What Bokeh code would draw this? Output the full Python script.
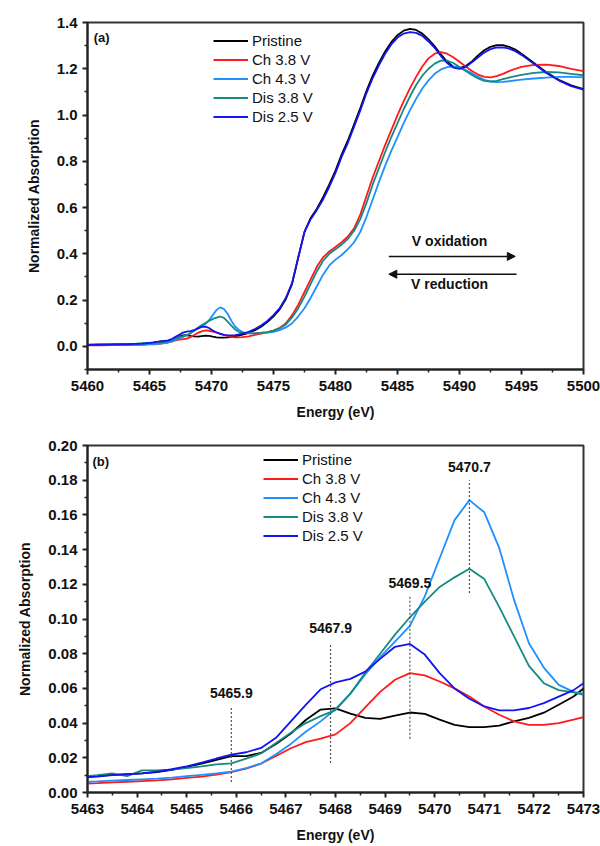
from bokeh.plotting import figure
from bokeh.layouts import column
from bokeh.models import (FixedTicker, PrintfTickFormatter, Arrow, NormalHead,
                          Label, ColumnDataSource, Range1d)
from bokeh.embed import file_html
from bokeh.resources import INLINE

# ---------------- data ----------------
series_names = ["Pristine", "Ch 3.8 V", "Ch 4.3 V", "Dis 3.8 V", "Dis 2.5 V"]
series_colors = ["#000000", "#ff1a1a", "#1e90ff", "#168a80", "#1414ee"]

# pre-edge start (panel a only)
E_pre = [5460.0, 5461.0, 5462.0]
pre_pristine = [0.006, 0.007, 0.008]
pre_ch38 = [0.004, 0.0045, 0.005]
pre_ch43 = [0.005, 0.0055, 0.006]
pre_dis38 = [0.007, 0.008, 0.009]
pre_dis25 = [0.006, 0.007, 0.008]

# pre-edge region (panel b, also part of panel a)
E_bot = [5463.0, 5463.2, 5463.5, 5463.8, 5464.1, 5464.4, 5464.7, 5465.0, 5465.3,
         5465.6, 5465.9, 5466.2, 5466.5, 5466.8, 5467.1, 5467.4, 5467.7, 5468.0,
         5468.3, 5468.6, 5468.9, 5469.2, 5469.5, 5469.8, 5470.1, 5470.4, 5470.7,
         5471.0, 5471.3, 5471.6, 5471.9, 5472.2, 5472.5, 5472.8, 5473.0]
bot_pristine = [0.0094, 0.0096, 0.0102, 0.0106, 0.0110, 0.0118, 0.0130, 0.0148, 0.0166,
                0.0188, 0.0210, 0.0210, 0.0228, 0.0280, 0.0340, 0.0418, 0.0478, 0.0485,
                0.0455, 0.0430, 0.0424, 0.0443, 0.0461, 0.0453, 0.0420, 0.0390, 0.0377,
                0.0377, 0.0385, 0.0410, 0.0430, 0.0460, 0.0506, 0.0553, 0.0600]
bot_ch38 = [0.0052, 0.0054, 0.0058, 0.0062, 0.0066, 0.0070, 0.0076, 0.0084, 0.0092,
            0.0103, 0.0117, 0.0138, 0.0167, 0.0210, 0.0255, 0.0290, 0.0310, 0.0335,
            0.0400, 0.0490, 0.0580, 0.0650, 0.0688, 0.0675, 0.0640, 0.0600, 0.0553,
            0.0496, 0.0448, 0.0410, 0.0390, 0.0390, 0.0400, 0.0420, 0.0435]
bot_ch43 = [0.0062, 0.0064, 0.0068, 0.0072, 0.0076, 0.0080, 0.0086, 0.0094, 0.0102,
            0.0110, 0.0120, 0.0140, 0.0167, 0.0220, 0.0280, 0.0350, 0.0410, 0.0480,
            0.0570, 0.0680, 0.0780, 0.0870, 0.0960, 0.1130, 0.1350, 0.1570, 0.1685,
            0.1615, 0.1410, 0.1110, 0.0860, 0.0720, 0.0620, 0.0580, 0.0570]
bot_dis38 = [0.0094, 0.0100, 0.0110, 0.0094, 0.0128, 0.0128, 0.0132, 0.0140, 0.0150,
             0.0162, 0.0168, 0.0195, 0.0225, 0.0285, 0.0345, 0.0400, 0.0440, 0.0475,
             0.0570, 0.0690, 0.0800, 0.0910, 0.1010, 0.1100, 0.1185, 0.1240, 0.1290,
             0.1230, 0.1070, 0.0900, 0.0730, 0.0630, 0.0590, 0.0577, 0.0563]
bot_dis25 = [0.0088, 0.0092, 0.0100, 0.0105, 0.0110, 0.0120, 0.0134, 0.0150, 0.0172,
             0.0196, 0.0218, 0.0232, 0.0257, 0.0315, 0.0410, 0.0505, 0.0595, 0.0635,
             0.0655, 0.0697, 0.0770, 0.0840, 0.0856, 0.0795, 0.0688, 0.0600, 0.0540,
             0.0496, 0.0473, 0.0473, 0.0487, 0.0515, 0.0553, 0.0590, 0.0630]

# main edge region (panel a)
E_edge = [5473.5, 5474.0, 5474.5, 5475.0, 5475.5, 5476.0, 5476.5, 5477.0, 5477.5,
          5478.0, 5478.5, 5479.0, 5479.5, 5480.0, 5480.5, 5481.0, 5481.5, 5482.0,
          5482.5, 5483.0, 5483.5, 5484.0, 5484.5, 5485.0, 5485.5, 5486.0, 5486.5,
          5487.0, 5487.5, 5488.0, 5488.5, 5489.0, 5489.5, 5490.0, 5490.5, 5491.0,
          5491.5, 5492.0, 5492.5, 5493.0, 5493.5, 5494.0, 5494.5, 5495.0, 5496.0,
          5497.0, 5498.0, 5499.0, 5500.0]
edge_pristine = [0.070, 0.085, 0.105, 0.130, 0.160, 0.205, 0.270, 0.385, 0.495,
                 0.555, 0.595, 0.645, 0.700, 0.760, 0.830, 0.890, 0.960, 1.030,
                 1.105, 1.170, 1.225, 1.275, 1.315, 1.345, 1.365, 1.372, 1.368,
                 1.352, 1.327, 1.297, 1.262, 1.230, 1.209, 1.203, 1.212, 1.232,
                 1.258, 1.280, 1.295, 1.302, 1.302, 1.295, 1.283, 1.265, 1.225,
                 1.185, 1.152, 1.128, 1.112]
edge_ch38 = [0.050, 0.055, 0.060, 0.068, 0.080, 0.100, 0.135, 0.180, 0.235,
             0.290, 0.345, 0.385, 0.410, 0.430, 0.450, 0.475, 0.510, 0.570,
             0.650, 0.730, 0.800, 0.870, 0.935, 1.000, 1.060, 1.115, 1.165,
             1.210, 1.245, 1.265, 1.272, 1.265, 1.250, 1.230, 1.210, 1.190,
             1.175, 1.165, 1.163, 1.168, 1.178, 1.190, 1.200, 1.208, 1.217,
             1.218, 1.212, 1.200, 1.190]
edge_ch43 = [0.056, 0.057, 0.059, 0.063, 0.070, 0.082, 0.100, 0.130, 0.165,
             0.210, 0.260, 0.310, 0.350, 0.375, 0.395, 0.420, 0.450, 0.495,
             0.560, 0.635, 0.710, 0.780, 0.845, 0.905, 0.965, 1.020, 1.070,
             1.115, 1.150, 1.178, 1.197, 1.207, 1.210, 1.205, 1.195, 1.180,
             1.165, 1.152, 1.145, 1.142, 1.143, 1.146, 1.150, 1.153, 1.158,
             1.162, 1.165, 1.165, 1.163]
edge_dis38 = [0.057, 0.059, 0.062, 0.068, 0.078, 0.095, 0.125, 0.165, 0.215,
              0.270, 0.325, 0.370, 0.400, 0.420, 0.440, 0.465, 0.500, 0.550,
              0.620, 0.700, 0.770, 0.840, 0.905, 0.965, 1.025, 1.080, 1.130,
              1.170, 1.200, 1.222, 1.235, 1.235, 1.225, 1.208, 1.190, 1.173,
              1.158, 1.148, 1.145, 1.148, 1.155, 1.162, 1.168, 1.174, 1.182,
              1.186, 1.184, 1.178, 1.172]
edge_dis25 = [0.075, 0.090, 0.110, 0.135, 0.165, 0.210, 0.275, 0.385, 0.495,
              0.550, 0.590, 0.635, 0.690, 0.750, 0.820, 0.880, 0.950, 1.020,
              1.095, 1.160, 1.215, 1.265, 1.305, 1.335, 1.352, 1.358, 1.355,
              1.342, 1.318, 1.290, 1.255, 1.225, 1.205, 1.200, 1.208, 1.228,
              1.250, 1.270, 1.285, 1.292, 1.292, 1.287, 1.276, 1.260, 1.222,
              1.182, 1.150, 1.125, 1.110]

# tick values
xa_ticks = [5460, 5465, 5470, 5475, 5480, 5485, 5490, 5495, 5500]
ya_ticks = [0.0, 0.2, 0.4, 0.6, 0.8, 1.0, 1.2, 1.4]
xb_ticks = [5463, 5464, 5465, 5466, 5467, 5468, 5469, 5470, 5471, 5472, 5473]
yb_ticks = [0.00, 0.02, 0.04, 0.06, 0.08, 0.10, 0.12, 0.14, 0.16, 0.18, 0.20]

# peak markers in panel b
peak_E = [5465.9, 5467.9, 5469.5, 5470.7]
peak_labels = ["5465.9", "5467.9", "5469.5", "5470.7"]

pre_all = [pre_pristine, pre_ch38, pre_ch43, pre_dis38, pre_dis25]
bot_all = [bot_pristine, bot_ch38, bot_ch43, bot_dis38, bot_dis25]
edge_all = [edge_pristine, edge_ch38, edge_ch43, edge_dis38, edge_dis25]

FONT = "Liberation Sans"


def style(p, xticks, xminor, yticks, yminor, yfmt):
    p.xaxis.ticker = FixedTicker(ticks=xticks, minor_ticks=xminor)
    p.yaxis.ticker = FixedTicker(ticks=yticks, minor_ticks=yminor)
    p.xaxis.formatter = PrintfTickFormatter(format="%d")
    p.yaxis.formatter = PrintfTickFormatter(format=yfmt)
    p.xgrid.visible = False
    p.ygrid.visible = False
    for ax in (p.xaxis[0], p.yaxis[0]):
        ax.axis_line_width = 2
        ax.axis_line_color = "#222222"
        ax.major_tick_line_width = 2
        ax.major_tick_line_color = "#222222"
        ax.minor_tick_line_width = 1.5
        ax.minor_tick_line_color = "#222222"
        ax.major_tick_in = 0
        ax.major_tick_out = 5
        ax.minor_tick_in = 0
        ax.minor_tick_out = 3
        ax.major_label_text_font = FONT
        ax.major_label_text_font_style = "bold"
        ax.major_label_text_font_size = "15px"
        ax.major_label_text_color = "#111111"
        ax.axis_label_text_font = FONT
        ax.axis_label_text_font_style = "bold"
        ax.axis_label_text_font_size = "14px"
        ax.axis_label_text_color = "#111111"
    p.xaxis.major_label_standoff = 6
    p.yaxis.major_label_standoff = 5
    p.xaxis.axis_label_standoff = 10
    p.yaxis.axis_label_standoff = 12
    p.outline_line_color = "#333333"
    p.outline_line_width = 2
    p.outline_line_alpha = 1.0


def make_fig(xr, yr):
    return figure(frame_width=496, frame_height=347, min_border_left=87,
                  min_border_right=17, min_border_top=22, min_border_bottom=54,
                  x_range=Range1d(*xr), y_range=Range1d(*yr),
                  output_backend="svg", toolbar_location=None,
                  x_axis_label="Energy (eV)", y_axis_label="Normalized Absorption",
                  background_fill_color="white", border_fill_color="white")


def style_legend(p, xoff, yoff):
    lg = p.legend[0]
    lg.location = (xoff, yoff)
    lg.border_line_alpha = 0
    lg.background_fill_alpha = 0
    lg.padding = 0
    lg.margin = 0
    lg.spacing = 2
    lg.glyph_width = 35
    lg.glyph_height = 15
    lg.label_height = 15
    lg.label_standoff = 4
    lg.label_text_font = FONT
    lg.label_text_font_size = "15px"
    lg.label_text_color = "#111111"


# ---------------- panel (a) ----------------
pa = make_fig((5460, 5500), (-0.1, 1.4))
style(pa, xa_ticks, [5462.5, 5467.5, 5472.5, 5477.5, 5482.5, 5487.5, 5492.5, 5497.5],
      ya_ticks, [-0.1, 0.1, 0.3, 0.5, 0.7, 0.9, 1.1, 1.3], "%.1f")
E_top = E_pre + E_bot + E_edge
for name, col, pre, bot, edge in zip(series_names, series_colors, pre_all, bot_all, edge_all):
    src = ColumnDataSource(dict(x=E_top, y=pre + bot + edge))
    pa.line("x", "y", source=src, line_color=col, line_width=1.8, legend_label=name)
style_legend(pa, 126, 244)

pa.add_layout(Label(x=5460.5, y=1.335, text="(a)", text_font=FONT, text_font_style="bold",
                    text_font_size="13px", text_baseline="middle", text_color="#111111"))
pa.add_layout(Label(x=5489.2, y=0.457, text="V oxidation", text_font=FONT,
                    text_font_style="bold", text_font_size="14px", text_align="center",
                    text_baseline="middle", text_color="#111111"))
pa.add_layout(Label(x=5489.2, y=0.268, text="V reduction", text_font=FONT,
                    text_font_style="bold", text_font_size="14px", text_align="center",
                    text_baseline="middle", text_color="#111111"))
pa.add_layout(Arrow(x_start=5484.3, y_start=0.389, x_end=5494.5, y_end=0.389,
                    line_width=1.5, line_color="#111111",
                    end=NormalHead(size=8, fill_color="#111111", line_color="#111111")))
pa.add_layout(Arrow(x_start=5494.6, y_start=0.312, x_end=5484.3, y_end=0.312,
                    line_width=1.5, line_color="#111111",
                    end=NormalHead(size=8, fill_color="#111111", line_color="#111111")))

# ---------------- panel (b) ----------------
pb = make_fig((5463, 5473), (0.0, 0.2))
style(pb, xb_ticks, [5463.5, 5464.5, 5465.5, 5466.5, 5467.5, 5468.5, 5469.5, 5470.5,
                     5471.5, 5472.5],
      yb_ticks, [0.01, 0.03, 0.05, 0.07, 0.09, 0.11, 0.13, 0.15, 0.17, 0.19], "%.2f")
for name, col, bot in zip(series_names, series_colors, bot_all):
    src = ColumnDataSource(dict(x=E_bot, y=bot))
    pb.line("x", "y", source=src, line_color=col, line_width=1.8, legend_label=name)
style_legend(pb, 176, 248)

line_y0 = [0.006, 0.017, 0.031, 0.115]
line_y1 = [0.049, 0.086, 0.113, 0.180]
label_y = [0.0575, 0.095, 0.1205, 0.1875]
pb.segment(x0=peak_E, y0=line_y0, x1=peak_E, y1=line_y1, line_color="#555555",
           line_width=1.2, line_dash="2 2")
for e, t, ly in zip(peak_E, peak_labels, label_y):
    pb.add_layout(Label(x=e, y=ly, text=t, text_font=FONT, text_font_style="bold",
                        text_font_size="14px", text_align="center",
                        text_baseline="middle", text_color="#111111"))
pb.add_layout(Label(x=5463.1, y=0.1905, text="(b)", text_font=FONT, text_font_style="bold",
                    text_font_size="13px", text_baseline="middle", text_color="#111111"))

layout = column(pa, pb, spacing=0)
open("out.html", "w").write(file_html(layout, INLINE))
